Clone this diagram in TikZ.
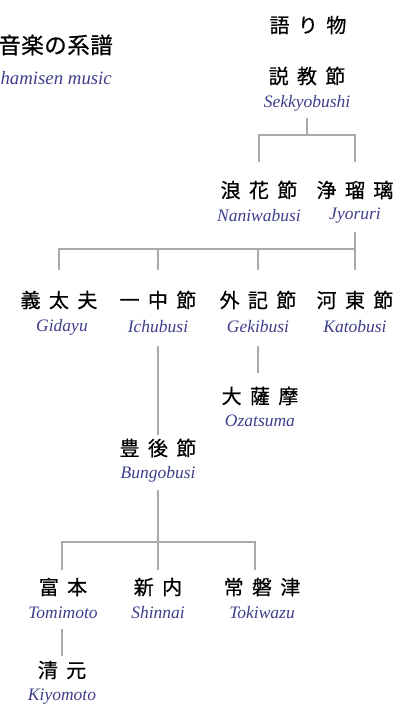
\documentclass[tikz,border=0pt]{standalone}
\usepackage{fontspec}
\setmainfont{Liberation Serif}
\newfontfamily\jpfont[FakeBold=0.6]{Noto Sans CJK JP}
\definecolor{romcol}{HTML}{3E3E8A}
\definecolor{lncol}{HTML}{A9A9AE}
\def\jg{\hspace{0.42em}}
\tikzset{
  jp/.style={font=\jpfont\fontsize{20}{20}\selectfont, text=black, inner sep=0pt, anchor=center},
  rom/.style={font=\itshape\fontsize{17.5}{17.5}\selectfont, text=romcol, inner sep=0pt, anchor=center},
  ln/.style={draw=lncol, line width=2.4pt}
}
\begin{document}
\begin{tikzpicture}[x=1pt,y=-1pt]
\useasboundingbox (0,0) rectangle (406,713);
\clip (0,0) rectangle (406,713);
% title
\node[font=\jpfont\fontsize{22.5}{22.5}\selectfont, inner sep=0pt, anchor=east] (title) at (113,45) {音\hspace{0.5pt}楽\hspace{0.5pt}の\hspace{0.5pt}系\hspace{0.5pt}譜};
\node[rom, font=\itshape\fontsize{18.8}{18.8}\selectfont, anchor=east] (titleen) at (112,78) {hamisen music};
\node[jp] (kat) at (308,25) {語\jg り\jg 物};
% nodes
\node[jp] (sek) at (307,76) {説\jg 教\jg 節};
\node[rom] (seke) at (307,103) {Sekkyobushi};
\node[jp] (nan) at (259,190) {浪\jg 花\jg 節};
\node[rom] (nane) at (259,216) {Naniwabusi};
\node[jp] (jyo) at (355,190) {浄\jg 瑠\jg 璃};
\node[rom] (jyoe) at (355,216) {Jyoruri};
\node[jp] (gid) at (59,300) {義\jg 太\jg 夫};
\node[rom] (gide) at (62,327) {Gidayu};
\node[jp] (ich) at (158,300) {一\jg 中\jg 節};
\node[rom] (iche) at (158,327) {Ichubusi};
\node[jp] (gek) at (258,300) {外\jg 記\jg 節};
\node[rom] (geke) at (258,327) {Gekibusi};
\node[jp] (kat2) at (355,300) {河\jg 東\jg 節};
\node[rom] (kate) at (355,327) {Katobusi};
\node[jp] (oza) at (260,396) {大\jg 薩\jg 摩};
\node[rom] (ozae) at (260,421) {Ozatsuma};
\node[jp] (bun) at (158,448) {豊\jg 後\jg 節};
\node[rom] (bune) at (158,474) {Bungobusi};
\node[jp] (tom) at (63,587) {富\jg 本};
\node[rom] (tome) at (63,613) {Tomimoto};
\node[jp] (shi) at (158,587) {新\jg 内};
\node[rom] (shie) at (158,613) {Shinnai};
\node[jp] (tok) at (262,587) {常\jg 磐\jg 津};
\node[rom] (toke) at (262,613) {Tokiwazu};
\node[jp] (kiy) at (62,670) {清\jg 元};
\node[rom] (kiye) at (62,697) {Kiyomoto};
% connectors
\coordinate (j1) at (307,135);
\draw[ln] (307,118) -- (j1);
\draw[ln] (259,162) -- (259,135) -- (355,135) -- (355,162);
\coordinate (j2) at (355,249);
\draw[ln] (355,232) -- (355,270);
\draw[ln] (59,270) -- (59,249) -- (355,249);
\draw[ln] (158,249) -- (158,270);
\draw[ln] (258,249) -- (258,270);
\draw[ln] (258,346) -- (258,373);
\draw[ln] (158,346) -- (158,435);
\draw[ln] (158,490) -- (158,570);
\draw[ln] (62,570) -- (62,542) -- (255,542) -- (255,570);
\draw[ln] (62,629) -- (62,656);
\end{tikzpicture}
\end{document}
